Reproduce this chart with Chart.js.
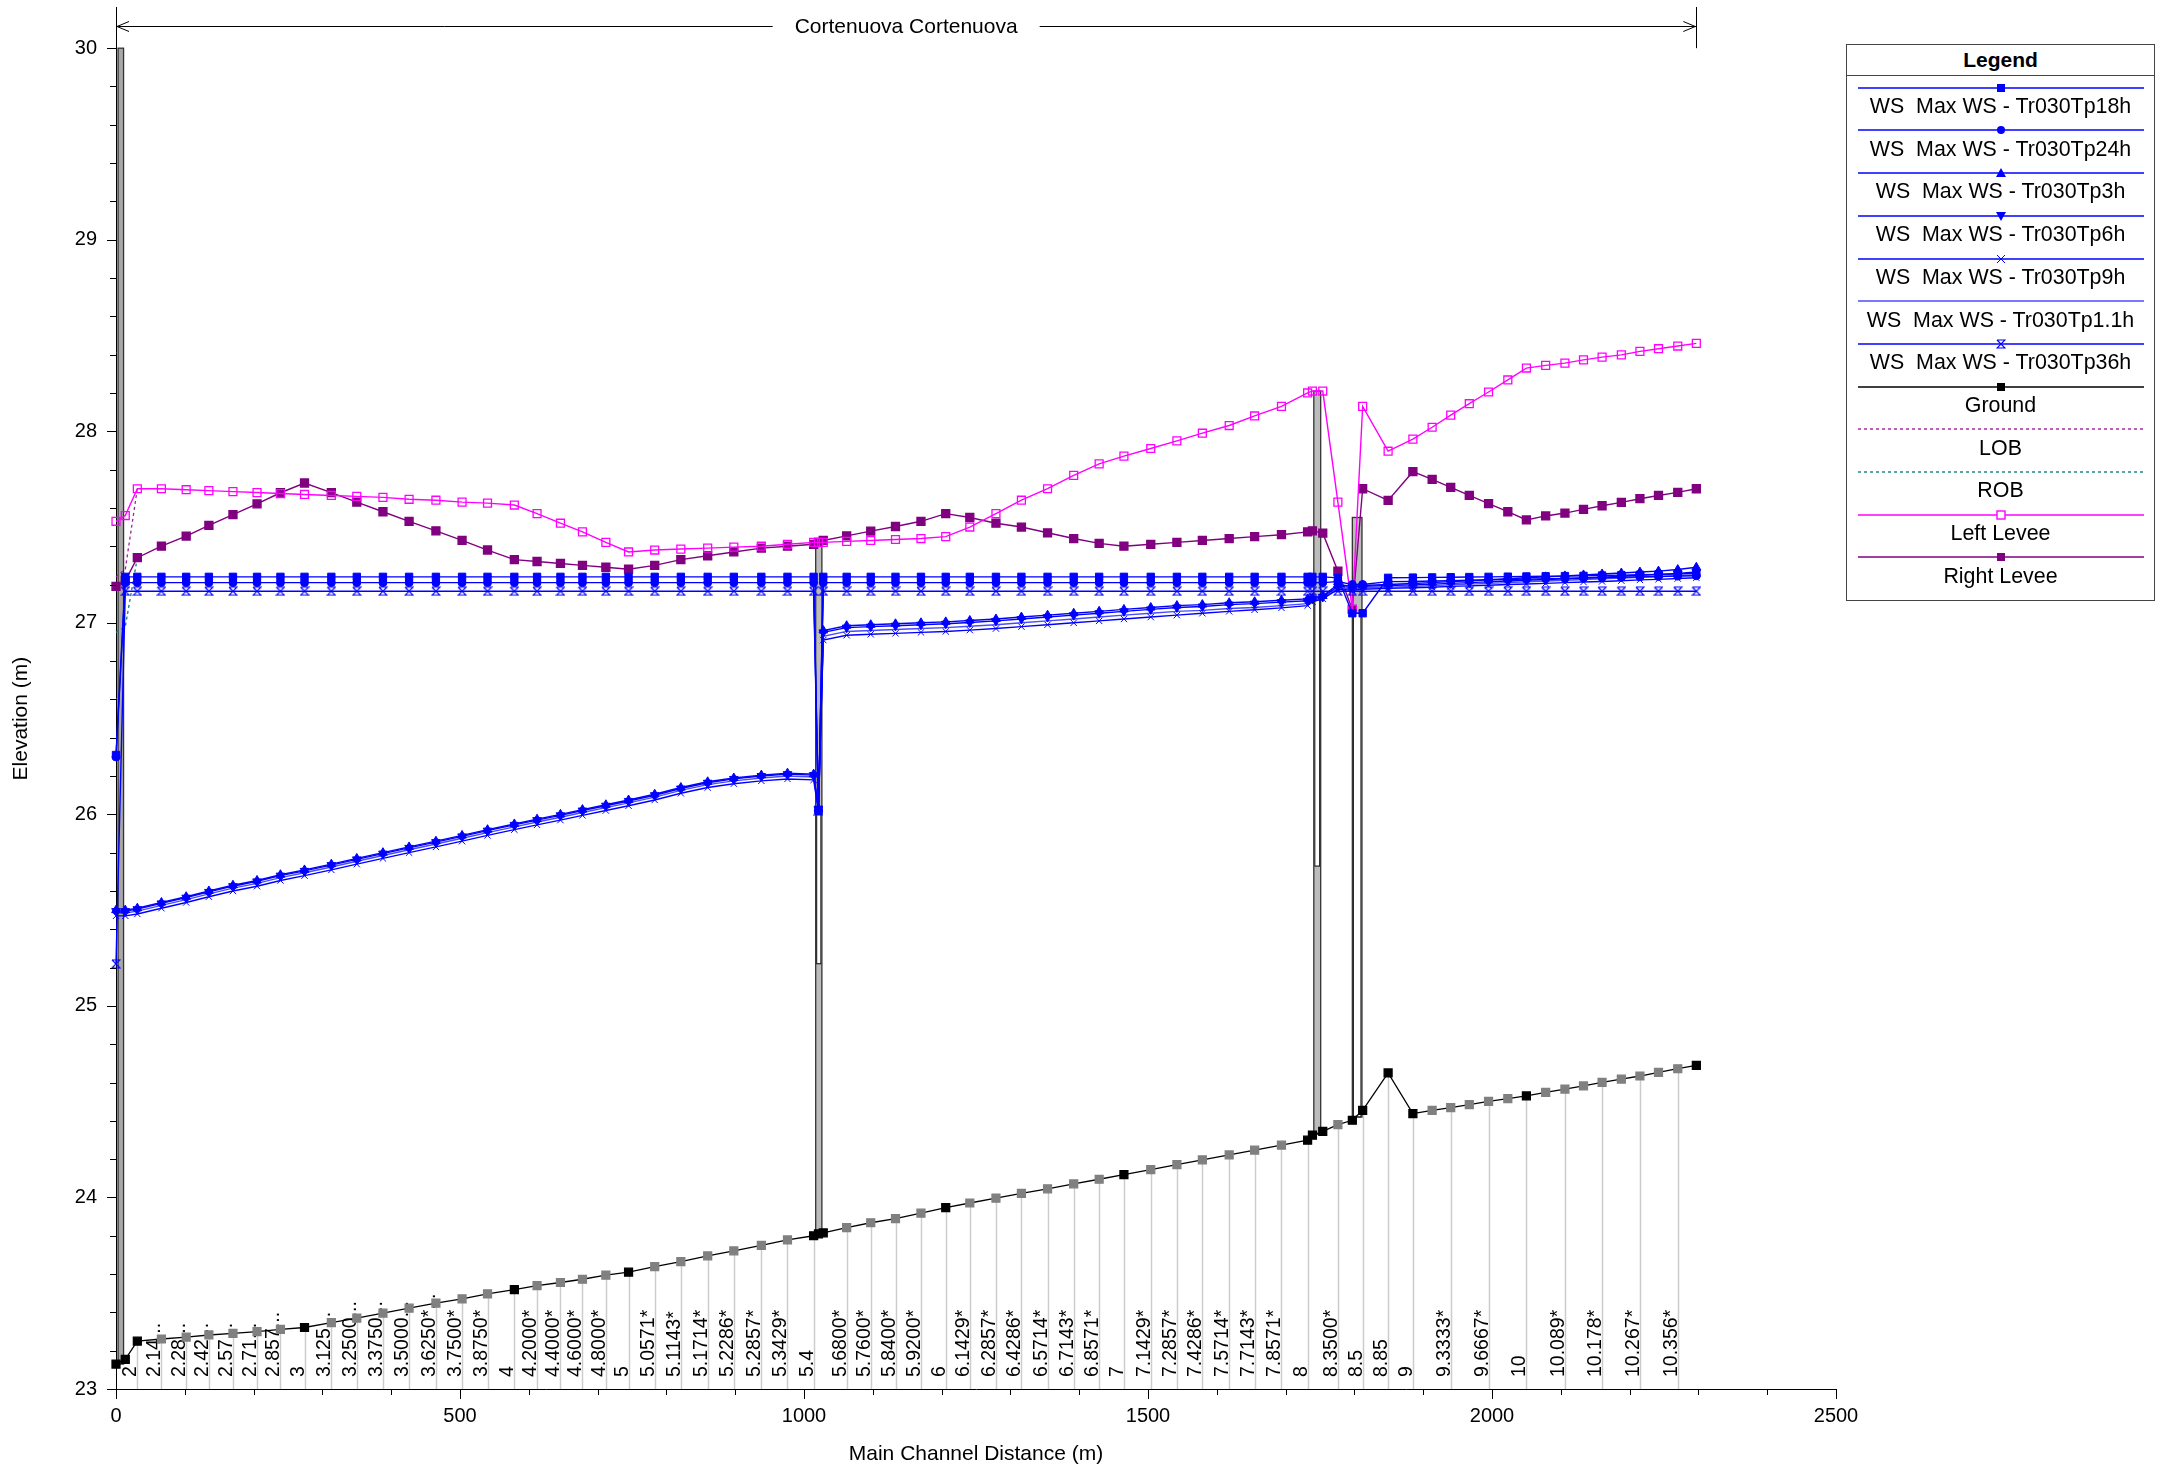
<!DOCTYPE html>
<html lang="en">
<head>
<meta charset="UTF-8" />
<title>Cortenuova profile</title>
<script src="https://cdn.jsdelivr.net/npm/chart.js@4"></script>
<style>
	body { margin: 0; background: #fff; }
	#wrap { position: relative; width: 2159px; height: 1469px; }
	#legend { position: absolute; left: 1846px; top: 44px; width: 309px; height: 557px; border: 1.5px solid #444; box-sizing: border-box; background: #fff; font-family: 'Liberation Sans', Arial, sans-serif; }
	#legend .title { position: absolute; left: 0; right: 0; top: 0; height: 30px; line-height: 30px; border-bottom: 1.5px solid #444; text-align: center; font-weight: bold; font-size: 21px; }
	#legend canvas { position: absolute; left: 11px; }
	#legend .item { position: absolute; left: 0; right: 0; height: 26px; line-height: 26px; text-align: center; font-size: 21.4px; white-space: pre; color: #000; }
</style>
</head>
<body>
<div id="wrap">
	<canvas id="chart" width="2159" height="1469"></canvas>
	<div id="legend"><div class="title">Legend</div></div>
</div>
<script>
	const FONT = "'Liberation Sans', Arial, sans-serif";

	// river stations (main channel distance, m)
	const stationX = [0, 13.5, 31, 66, 102, 135, 170, 205, 239, 274,
		313, 350, 388, 426, 465, 503, 540, 579, 612, 646,
		678, 712, 745, 783, 821, 860, 898, 938, 976, 1014,
		1021, 1028, 1062, 1097, 1133, 1170, 1206, 1241, 1279, 1316,
		1354, 1392, 1429, 1465, 1504, 1542, 1579, 1618, 1655, 1694,
		1732, 1739, 1754, 1776, 1797, 1812, 1849, 1885, 1913, 1940,
		1967, 1995, 2023, 2050, 2078, 2106, 2133, 2160, 2188, 2215,
		2242, 2270, 2297];

	const stationLabel = ['', '', '2', '2.14...', '2.28...', '2.42...', '2.57...', '2.71...', '2.857...', '3',
		'3.125...', '3.2500...', '3.3750...', '3.5000...', '3.6250*...', '3.7500*', '3.8750*', '4', '4.2000*', '4.4000*',
		'4.6000*', '4.8000*', '5', '5.0571*', '5.1143*', '5.1714*', '5.2286*', '5.2857*', '5.3429*', '5.4',
		'', '', '5.6800*', '5.7600*', '5.8400*', '5.9200*', '6', '6.1429*', '6.2857*', '6.4286*',
		'6.5714*', '6.7143*', '6.8571*', '7', '7.1429*', '7.2857*', '7.4286*', '7.5714*', '7.7143*', '7.8571*',
		'8', '', '', '8.3500*', '', '8.5', '8.85', '9', '', '9.3333*',
		'', '9.6667*', '', '10', '', '10.089*', '', '10.178*', '', '10.267*',
		'', '10.356*', ''];

	const isInterp = [0, 0, 0, 1, 1, 1, 1, 1, 1, 0,
		1, 1, 1, 1, 1, 1, 1, 0, 1, 1,
		1, 1, 0, 1, 1, 1, 1, 1, 1, 0,
		0, 0, 1, 1, 1, 1, 0, 1, 1, 1,
		1, 1, 1, 0, 1, 1, 1, 1, 1, 1,
		0, 0, 0, 1, 0, 0, 0, 0, 1, 1,
		1, 1, 1, 0, 1, 1, 1, 1, 1, 1,
		1, 1, 0];

	const ground = [23.13, 23.155, 23.25, 23.261, 23.271, 23.282, 23.29, 23.30, 23.311, 23.321,
		23.346, 23.37, 23.396, 23.422, 23.448, 23.471, 23.497, 23.519, 23.54, 23.556,
		23.573, 23.594, 23.61, 23.639, 23.665, 23.695, 23.721, 23.75, 23.778, 23.80,
		23.81, 23.815, 23.843, 23.868, 23.89, 23.918, 23.947, 23.971, 23.996, 24.021,
		24.045, 24.071, 24.095, 24.119, 24.145, 24.171, 24.196, 24.222, 24.247, 24.273,
		24.299, 24.325, 24.345, 24.38, 24.403, 24.455, 24.65, 24.438, 24.455, 24.469,
		24.485, 24.502, 24.516, 24.53, 24.549, 24.566, 24.582, 24.601, 24.618, 24.634,
		24.653, 24.672, 24.69];

	const ws18 = [26.31, 27.24, 27.24, 27.24, 27.24, 27.24, 27.24, 27.24, 27.24, 27.24,
		27.24, 27.24, 27.24, 27.24, 27.24, 27.24, 27.24, 27.24, 27.24, 27.24,
		27.24, 27.24, 27.24, 27.24, 27.24, 27.24, 27.24, 27.24, 27.24, 27.24,
		26.02, 27.24, 27.24, 27.24, 27.24, 27.24, 27.24, 27.24, 27.24, 27.24,
		27.24, 27.24, 27.24, 27.24, 27.24, 27.24, 27.24, 27.24, 27.24, 27.24,
		27.24, 27.24, 27.24, 27.235, 27.05, 27.05, 27.235, 27.236, 27.237, 27.238,
		27.239, 27.24, 27.241, 27.242, 27.243, 27.244, 27.245, 27.247, 27.249, 27.251,
		27.253, 27.255, 27.258];

	const ws24 = [26.30, 27.21, 27.21, 27.21, 27.21, 27.21, 27.21, 27.21, 27.21, 27.21,
		27.21, 27.21, 27.21, 27.21, 27.21, 27.21, 27.21, 27.21, 27.21, 27.21,
		27.21, 27.21, 27.21, 27.21, 27.21, 27.21, 27.21, 27.21, 27.21, 27.21,
		26.02, 27.21, 27.21, 27.21, 27.21, 27.21, 27.21, 27.21, 27.21, 27.21,
		27.21, 27.21, 27.21, 27.21, 27.21, 27.21, 27.21, 27.21, 27.21, 27.21,
		27.21, 27.21, 27.21, 27.215, 27.20, 27.20, 27.215, 27.216, 27.218, 27.22,
		27.222, 27.224, 27.226, 27.228, 27.23, 27.232, 27.234, 27.236, 27.238, 27.24,
		27.242, 27.244, 27.246];

	const ws3 = [25.50, 25.50, 25.51, 25.54, 25.57, 25.60, 25.63, 25.655, 25.685, 25.71,
		25.74, 25.77, 25.80, 25.83, 25.86, 25.89, 25.92, 25.95, 25.975, 26.00,
		26.025, 26.05, 26.075, 26.105, 26.14, 26.17, 26.19, 26.205, 26.215, 26.21,
		26.03, 26.96, 26.985, 26.99, 26.995, 27.00, 27.005, 27.012, 27.02, 27.03,
		27.04, 27.05, 27.06, 27.07, 27.08, 27.09, 27.095, 27.105, 27.11, 27.118,
		27.125, 27.13, 27.14, 27.20, 27.19, 27.195, 27.20, 27.205, 27.21, 27.215,
		27.22, 27.225, 27.23, 27.235, 27.24, 27.245, 27.25, 27.255, 27.26, 27.265,
		27.27, 27.278, 27.29];

	const ws6 = [25.495, 25.495, 25.505, 25.535, 25.565, 25.595, 25.625, 25.65, 25.68, 25.705,
		25.735, 25.765, 25.795, 25.825, 25.855, 25.885, 25.915, 25.945, 25.97, 25.995,
		26.02, 26.045, 26.07, 26.10, 26.135, 26.165, 26.185, 26.20, 26.21, 26.205,
		26.03, 26.95, 26.975, 26.98, 26.985, 26.99, 26.995, 27.002, 27.01, 27.02,
		27.03, 27.04, 27.05, 27.06, 27.07, 27.08, 27.085, 27.095, 27.10, 27.108,
		27.115, 27.125, 27.135, 27.19, 27.185, 27.19, 27.195, 27.198, 27.202, 27.206,
		27.21, 27.214, 27.218, 27.222, 27.226, 27.23, 27.234, 27.238, 27.243, 27.248,
		27.252, 27.258, 27.265];

	const ws9 = [25.47, 25.47, 25.48, 25.51, 25.54, 25.57, 25.60, 25.625, 25.655, 25.68,
		25.71, 25.74, 25.77, 25.80, 25.83, 25.86, 25.89, 25.92, 25.945, 25.97,
		25.995, 26.02, 26.045, 26.075, 26.11, 26.14, 26.16, 26.175, 26.185, 26.18,
		26.02, 26.91, 26.935, 26.94, 26.945, 26.95, 26.955, 26.962, 26.97, 26.98,
		26.99, 27.0, 27.01, 27.02, 27.03, 27.04, 27.05, 27.06, 27.068, 27.078,
		27.09, 27.11, 27.125, 27.175, 27.17, 27.175, 27.18, 27.183, 27.186, 27.19,
		27.193, 27.196, 27.2, 27.203, 27.206, 27.21, 27.213, 27.216, 27.22, 27.224,
		27.227, 27.231, 27.235];

	const ws11 = [25.485, 25.485, 25.495, 25.525, 25.555, 25.585, 25.615, 25.64, 25.67, 25.695,
		25.725, 25.755, 25.785, 25.815, 25.845, 25.875, 25.905, 25.935, 25.96, 25.985,
		26.01, 26.035, 26.06, 26.09, 26.125, 26.155, 26.175, 26.19, 26.20, 26.195,
		26.02, 26.93, 26.955, 26.96, 26.965, 26.97, 26.975, 26.982, 26.99, 27.0,
		27.01, 27.02, 27.03, 27.04, 27.05, 27.06, 27.065, 27.075, 27.08, 27.09,
		27.1, 27.115, 27.13, 27.18, 27.178, 27.182, 27.186, 27.19, 27.194, 27.198,
		27.202, 27.206, 27.21, 27.214, 27.218, 27.222, 27.226, 27.23, 27.234, 27.238,
		27.242, 27.246, 27.25];

	const ws36 = [25.22, 27.165, 27.165, 27.165, 27.165, 27.165, 27.165, 27.165, 27.165, 27.165,
		27.165, 27.165, 27.165, 27.165, 27.165, 27.165, 27.165, 27.165, 27.165, 27.165,
		27.165, 27.165, 27.165, 27.165, 27.165, 27.165, 27.165, 27.165, 27.165, 27.165,
		26.02, 27.165, 27.165, 27.165, 27.165, 27.165, 27.165, 27.165, 27.165, 27.165,
		27.165, 27.165, 27.165, 27.165, 27.165, 27.165, 27.165, 27.165, 27.165, 27.165,
		27.165, 27.165, 27.165, 27.165, 27.165, 27.165, 27.165, 27.165, 27.165, 27.165,
		27.165, 27.165, 27.165, 27.165, 27.165, 27.165, 27.165, 27.165, 27.165, 27.165,
		27.165, 27.165, 27.165];

	const leftLevee = [27.53, 27.56, 27.70, 27.70, 27.695, 27.69, 27.685, 27.68, 27.675, 27.67,
		27.665, 27.66, 27.655, 27.645, 27.64, 27.63, 27.625, 27.615, 27.57, 27.52,
		27.475, 27.42, 27.37, 27.38, 27.385, 27.39, 27.395, 27.40, 27.41, 27.42,
		27.42, 27.42, 27.425, 27.43, 27.435, 27.44, 27.45, 27.50, 27.57, 27.64,
		27.70, 27.77, 27.83, 27.87, 27.91, 27.95, 27.99, 28.03, 28.08, 28.13,
		28.20, 28.21, 28.21, 27.63, 27.07, 28.13, 27.896, 27.959, 28.021, 28.084,
		28.144, 28.205, 28.268, 28.33, 28.344, 28.356, 28.373, 28.387, 28.399, 28.417,
		28.431, 28.445, 28.459];

	const rightLevee = [27.19, 27.22, 27.34, 27.40, 27.453, 27.509, 27.565, 27.621, 27.679, 27.73,
		27.68, 27.63, 27.58, 27.53, 27.48, 27.43, 27.38, 27.33, 27.32, 27.31,
		27.30, 27.29, 27.28, 27.30, 27.33, 27.35, 27.37, 27.39, 27.40, 27.41,
		27.42, 27.43, 27.454, 27.479, 27.503, 27.53, 27.57, 27.55, 27.52, 27.50,
		27.47, 27.44, 27.415, 27.40, 27.41, 27.42, 27.43, 27.44, 27.45, 27.46,
		27.475, 27.48, 27.468, 27.27, 27.07, 27.70, 27.639, 27.789, 27.749, 27.707,
		27.665, 27.622, 27.58, 27.537, 27.558, 27.573, 27.592, 27.611, 27.629, 27.648,
		27.665, 27.681, 27.70];

	// bank stations, only where they leave the levee lines
	const bankX = [0, 13.5, 31];
	const lob = [27.24, 27.28, 27.70];
	const rob = [26.95, 26.98, 27.34];

	// structures (bridges / culverts): x range, invert, deck top, open part
	const structFrom = [3, 1017, 1741, 1797];
	const structTo = [11, 1026, 1751, 1811];
	const structBottom = [23.13, 23.81, 24.33, 24.42];
	const structTop = [30.0, 27.43, 28.21, 27.55];
	const openLow = [null, 25.22, 25.73, 24.42];
	const openHigh = [null, 26.0, 27.12, 27.05];

	const reachRange = [0, 2297];
	const reachName = 'Cortenuova Cortenuova';

	const xTicks = [0, 500, 1000, 1500, 2000, 2500];
	const yTicks = [23, 24, 25, 26, 27, 28, 29, 30];

	const BLUE = '#0000ff';

	function hourglass(color, size) {
		const c = document.createElement('canvas');
		c.width = size; c.height = size;
		const g = c.getContext('2d');
		g.strokeStyle = color;
		g.lineWidth = 1.2;
		g.beginPath();
		g.moveTo(1, 1); g.lineTo(size - 1, 1); g.lineTo(1, size - 1); g.lineTo(size - 1, size - 1); g.lineTo(1, 1);
		g.stroke();
		return c;
	}

	function pts(values, xs) {
		return (xs || stationX).map((x, i) => ({ x: x, y: values[i] }));
	}

	function wsSet(label, values, style, extra) {
		return Object.assign({
			label: label,
			data: pts(values),
			borderColor: BLUE,
			backgroundColor: BLUE,
			pointBackgroundColor: BLUE,
			pointBorderColor: BLUE,
			borderWidth: 1.4,
			pointStyle: style,
			pointRadius: 5,
			pointBorderWidth: 1,
			order: 0,
			clip: false,
		}, extra || {});
	}

	const datasets = [
		wsSet('WS  Max WS - Tr030Tp18h', ws18, 'rect', { pointRadius: 5.2 }),
		wsSet('WS  Max WS - Tr030Tp24h', ws24, 'circle', { pointRadius: 4 }),
		wsSet('WS  Max WS - Tr030Tp3h', ws3, 'triangle', { pointRadius: 5 }),
		wsSet('WS  Max WS - Tr030Tp6h', ws6, 'triangle', { pointRadius: 5, pointRotation: 180 }),
		wsSet('WS  Max WS - Tr030Tp9h', ws9, 'crossRot', { pointRadius: 4.5 }),
		wsSet('WS  Max WS - Tr030Tp1.1h', ws11, 'circle', { pointRadius: 0, borderColor: '#4a4aff' }),
		wsSet('WS  Max WS - Tr030Tp36h', ws36, hourglass(BLUE, 10), {}),
		{
			label: 'Ground',
			data: pts(ground),
			borderColor: '#000',
			borderWidth: 1.3,
			pointStyle: 'rect',
			pointRadius: 5.6,
			pointBackgroundColor: isInterp.map(f => f ? '#808080' : '#000'),
			pointBorderColor: isInterp.map(f => f ? '#808080' : '#000'),
			order: 1,
			clip: false,
		},
		{
			label: 'LOB',
			data: pts(lob, bankX),
			borderColor: '#a020a0',
			borderWidth: 1.3,
			borderDash: [3, 3],
			pointRadius: 0,
			order: 3,
			clip: false,
		},
		{
			label: 'ROB',
			data: pts(rob, bankX),
			borderColor: '#108080',
			borderWidth: 1.3,
			borderDash: [3, 3],
			pointRadius: 0,
			order: 3,
			clip: false,
		},
		{
			label: 'Left Levee',
			data: pts(leftLevee),
			borderColor: '#ff00ff',
			borderWidth: 1.4,
			pointStyle: 'rect',
			pointRadius: 5.6,
			pointBackgroundColor: 'rgba(255,255,255,0)',
			pointBorderColor: '#ff00ff',
			pointBorderWidth: 1.3,
			order: 2,
			clip: false,
		},
		{
			label: 'Right Levee',
			data: pts(rightLevee),
			borderColor: '#800080',
			borderWidth: 1.4,
			pointStyle: 'rect',
			pointRadius: 5.6,
			pointBackgroundColor: '#800080',
			pointBorderColor: '#800080',
			order: 2,
			clip: false,
		},
	];

	const profilePlugin = {
		id: 'profileExtras',
		beforeDatasetsDraw(chart) {
			const { ctx, scales: { x, y } } = chart;
			const yBottom = y.getPixelForValue(23);
			ctx.save();

			// station grid lines, ground down to the axis
			ctx.strokeStyle = '#cccccc';
			ctx.lineWidth = 1.5;
			stationX.forEach((sx, i) => {
				if (!stationLabel[i]) return;
				const px = Math.round(x.getPixelForValue(sx)) + 0.5;
				ctx.beginPath();
				ctx.moveTo(px, y.getPixelForValue(ground[i]));
				ctx.lineTo(px, yBottom);
				ctx.stroke();
			});

			// station labels
			ctx.fillStyle = '#000';
			ctx.font = '19.5px ' + FONT;
			ctx.textAlign = 'left';
			ctx.textBaseline = 'alphabetic';
			stationX.forEach((sx, i) => {
				if (!stationLabel[i]) return;
				const px = x.getPixelForValue(sx);
				ctx.save();
				ctx.translate(px - 1, yBottom - 12);
				ctx.rotate(-Math.PI / 2);
				ctx.fillText(stationLabel[i], 0, 0);
				ctx.restore();
			});

			// structures
			for (let i = 0; i < structFrom.length; i++) {
				const x0 = x.getPixelForValue(structFrom[i]);
				const x1 = x.getPixelForValue(structTo[i]);
				const yb = y.getPixelForValue(structBottom[i]);
				const yt = y.getPixelForValue(structTop[i]);
				ctx.fillStyle = i === 0 ? '#a8a8a8' : '#bcbcbc';
				ctx.fillRect(x0, yt, x1 - x0, yb - yt);
				if (openLow[i] !== null) {
					const ol = y.getPixelForValue(openLow[i]);
					const oh = y.getPixelForValue(openHigh[i]);
					ctx.fillStyle = '#fff';
					ctx.fillRect(x0, oh, x1 - x0, ol - oh);
					ctx.strokeStyle = '#000';
					ctx.lineWidth = 1;
					ctx.strokeRect(x0 + 1, oh, x1 - x0 - 2, ol - oh);
				}
				ctx.strokeStyle = '#333';
				ctx.lineWidth = 1.3;
				ctx.strokeRect(x0, yt, x1 - x0, yb - yt);
			}
			ctx.restore();
		},
		afterDraw(chart) {
			const { ctx, scales: { x, y } } = chart;
			const left = x.getPixelForValue(0);
			const bottom = y.getPixelForValue(23);
			ctx.save();
			ctx.strokeStyle = '#000';
			ctx.lineWidth = 1;

			// x ticks, every 100 m, longer every 500 m
			for (let v = 0; v <= 2500; v += 100) {
				const px = Math.round(x.getPixelForValue(v)) + 0.5;
				ctx.beginPath();
				ctx.moveTo(px, bottom);
				ctx.lineTo(px, bottom + (v % 500 === 0 ? 10 : 6));
				ctx.stroke();
			}
			// y ticks, every 0.2 m, longer at whole metres
			for (let k = 0; k <= 35; k++) {
				const py = Math.round(y.getPixelForValue(23 + k * 0.2)) + 0.5;
				ctx.beginPath();
				ctx.moveTo(left, py);
				ctx.lineTo(left - (k % 5 === 0 ? 9 : 6), py);
				ctx.stroke();
			}

			// y axis title
			ctx.fillStyle = '#000';
			ctx.font = '21px ' + FONT;
			ctx.textAlign = 'center';
			ctx.textBaseline = 'middle';
			ctx.save();
			ctx.translate(21, (y.getPixelForValue(23) + y.getPixelForValue(30)) / 2);
			ctx.rotate(-Math.PI / 2);
			ctx.fillText('Elevation (m)', 0, 0);
			ctx.restore();

			// reach arrow with name
			const ax0 = x.getPixelForValue(reachRange[0]);
			const ax1 = x.getPixelForValue(reachRange[1]);
			const ay = Math.round(y.top + 19) + 0.5;
			const mid = (ax0 + ax1) / 2;
			const tw = ctx.measureText(reachName).width;
			ctx.beginPath();
			ctx.moveTo(ax0, ay); ctx.lineTo(mid - tw / 2 - 22, ay);
			ctx.moveTo(mid + tw / 2 + 22, ay); ctx.lineTo(ax1, ay);
			ctx.moveTo(ax0 + 13, ay - 5); ctx.lineTo(ax0 + 1, ay); ctx.lineTo(ax0 + 13, ay + 5);
			ctx.moveTo(ax1 - 13, ay - 5); ctx.lineTo(ax1 - 1, ay); ctx.lineTo(ax1 - 13, ay + 5);
			const bx = Math.round(ax1) + 0.5;
			ctx.moveTo(bx, y.top); ctx.lineTo(bx, y.getPixelForValue(30));
			ctx.stroke();
			ctx.fillText(reachName, mid, ay + 1);
			ctx.restore();
		},
	};

	new Chart(document.getElementById('chart'), {
		type: 'line',
		data: { datasets },
		options: {
			responsive: false,
			animation: false,
			layout: { padding: { top: 4, right: 323, bottom: 0, left: 0 } },
			plugins: { legend: { display: false }, tooltip: { enabled: false } },
			elements: { line: { tension: 0 } },
			scales: {
				x: {
					type: 'linear',
					min: 0,
					max: 2500,
					grid: { display: false },
					border: { display: true, color: '#000', width: 1 },
					afterBuildTicks: s => { s.ticks = xTicks.map(v => ({ value: v })); },
					afterFit: s => { s.height = 80; s.paddingLeft = 0; s.paddingRight = 0; },
					ticks: { color: '#000', font: { family: FONT, size: 20 }, padding: 7, autoSkip: false, maxRotation: 0, callback: v => String(v) },
					title: { display: true, text: 'Main Channel Distance (m)', color: '#000', font: { family: FONT, size: 21 }, padding: { top: 0, bottom: 2 } },
				},
				y: {
					type: 'linear',
					min: 23,
					max: 30.215,
					grid: { display: false },
					border: { display: true, color: '#000', width: 1 },
					afterBuildTicks: s => { s.ticks = yTicks.map(v => ({ value: v })); },
					afterFit: s => { s.width = 116; s.paddingTop = 0; s.paddingBottom = 0; },
					ticks: { color: '#000', font: { family: FONT, size: 20 }, padding: 11, autoSkip: false, callback: v => String(v) },
				},
			},
		},
		plugins: [profilePlugin],
	});

	// legend box
	const legendItems = [
		{ text: 'WS  Max WS - Tr030Tp18h', color: BLUE, marker: 'rect' },
		{ text: 'WS  Max WS - Tr030Tp24h', color: BLUE, marker: 'circle' },
		{ text: 'WS  Max WS - Tr030Tp3h', color: BLUE, marker: 'up' },
		{ text: 'WS  Max WS - Tr030Tp6h', color: BLUE, marker: 'down' },
		{ text: 'WS  Max WS - Tr030Tp9h', color: BLUE, marker: 'x' },
		{ text: 'WS  Max WS - Tr030Tp1.1h', color: '#4a4aff', marker: null },
		{ text: 'WS  Max WS - Tr030Tp36h', color: BLUE, marker: 'hour' },
		{ text: 'Ground', color: '#000', marker: 'rect' },
		{ text: 'LOB', color: '#a020a0', marker: null, dash: true },
		{ text: 'ROB', color: '#108080', marker: null, dash: true },
		{ text: 'Left Levee', color: '#ff00ff', marker: 'open' },
		{ text: 'Right Levee', color: '#800080', marker: 'rect' },
	];

	const legendBox = document.getElementById('legend');
	legendItems.forEach((item, i) => {
		const c = document.createElement('canvas');
		c.width = 286; c.height = 14;
		c.style.top = (35.7 + i * 42.7) + 'px';
		legendBox.appendChild(c);
		const g = c.getContext('2d');
		g.strokeStyle = item.color;
		g.fillStyle = item.color;
		g.lineWidth = 1.4;
		if (item.dash) g.setLineDash([3, 3]);
		g.beginPath(); g.moveTo(0, 7); g.lineTo(286, 7); g.stroke();
		g.setLineDash([]);
		const cx = 143, cy = 7;
		if (item.marker === 'rect') g.fillRect(cx - 4, cy - 4, 8, 8);
		if (item.marker === 'open') { g.fillStyle = '#fff'; g.fillRect(cx - 4, cy - 4, 8, 8); g.strokeRect(cx - 4, cy - 4, 8, 8); }
		if (item.marker === 'circle') { g.beginPath(); g.arc(cx, cy, 4, 0, Math.PI * 2); g.fill(); }
		if (item.marker === 'up') { g.beginPath(); g.moveTo(cx, cy - 5); g.lineTo(cx + 5, cy + 4); g.lineTo(cx - 5, cy + 4); g.fill(); }
		if (item.marker === 'down') { g.beginPath(); g.moveTo(cx, cy + 5); g.lineTo(cx + 5, cy - 4); g.lineTo(cx - 5, cy - 4); g.fill(); }
		if (item.marker === 'x') { g.lineWidth = 1; g.beginPath(); g.moveTo(cx - 4, cy - 4); g.lineTo(cx + 4, cy + 4); g.moveTo(cx + 4, cy - 4); g.lineTo(cx - 4, cy + 4); g.stroke(); }
		if (item.marker === 'hour') g.drawImage(hourglass(item.color, 10), cx - 5, cy - 5);

		const t = document.createElement('div');
		t.className = 'item';
		t.style.top = (48 + i * 42.7) + 'px';
		t.textContent = item.text;
		legendBox.appendChild(t);
	});
</script>
</body>
</html>
